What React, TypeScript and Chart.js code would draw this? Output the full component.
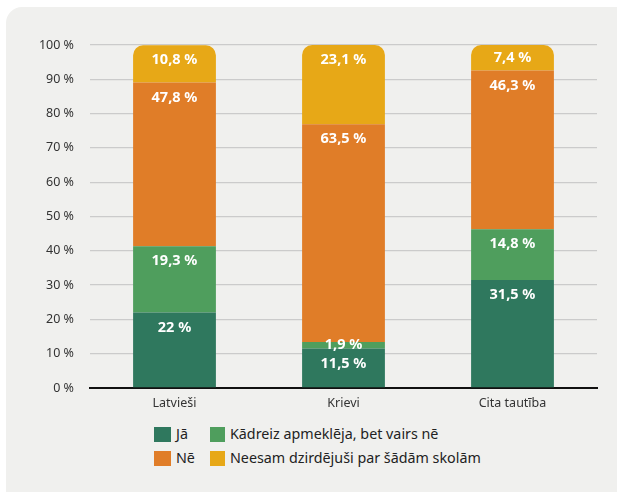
import React, { useEffect, useRef } from "react";
import { Chart, registerables } from "chart.js";

Chart.register(...registerables);

const categories = ["Latvieši", "Krievi", "Cita tautība"];
const seriesNames = [
  "Jā",
  "Kādreiz apmeklēja, bet vairs nē",
  "Nē",
  "Neesam dzirdējuši par šādām skolām",
];
const jaValues = [22, 11.5, 31.5];
const kadreizValues = [19.3, 1.9, 14.8];
const neValues = [47.8, 63.5, 46.3];
const neesamValues = [10.8, 23.1, 7.4];
const yTickMax = 100;
const yTickStep = 10;
const seriesColors = ["#2f785e", "#4f9e5d", "#e07d28", "#e7a817"];

const fmt = (v: number) => String(v).replace(".", ",") + " %";

const FONT = '"Noto Sans", "DejaVu Sans", sans-serif';

const segLabels = {
  id: "segLabels",
  afterDatasetsDraw(chart: any) {
    const ctx = chart.ctx;
    ctx.save();
    ctx.font = `bold 14.5px ${FONT}`;
    ctx.fillStyle = "#ffffff";
    ctx.textAlign = "center";
    ctx.textBaseline = "middle";
    chart.data.datasets.forEach((ds: any, di: number) => {
      const meta = chart.getDatasetMeta(di);
      meta.data.forEach((bar: any, i: number) => {
        const { x, y, base } = bar.getProps(["x", "y", "base"], true);
        const h = base - y;
        const ly = h >= 30 ? y + 15 : (y + base) / 2;
        ctx.fillText(fmt(ds.data[i]), x, ly);
      });
    });
    ctx.restore();
  },
};

export default function App() {
  const ref = useRef<HTMLCanvasElement | null>(null);

  useEffect(() => {
    if (!ref.current) return;
    const seriesData = [jaValues, kadreizValues, neValues, neesamValues];
    const chart = new Chart(ref.current, {
      type: "bar",
      data: {
        labels: categories,
        datasets: seriesData.map((d, i) => ({
          label: seriesNames[i],
          data: d,
          backgroundColor: seriesColors[i],
          borderWidth: 0,
          borderRadius:
            i === seriesData.length - 1
              ? { topLeft: 10, topRight: 10, bottomLeft: 0, bottomRight: 0 }
              : 0,
          borderSkipped: false,
          barPercentage: 0.49,
          categoryPercentage: 1,
        })),
      },
      options: {
        responsive: false,
        animation: false,
        layout: { padding: { left: 0, right: 20, top: 45, bottom: 0 } },
        plugins: {
          legend: { display: false },
          tooltip: { enabled: false },
        },
        scales: {
          x: {
            stacked: true,
            grid: { display: false, drawTicks: false },
            border: { display: true, color: "#111111", width: 2 },
            ticks: {
              color: "#333333",
              font: { family: FONT, size: 12.5 },
              padding: 8,
            },
            afterFit: (s: any) => {
              s.height = 32;
            },
          },
          y: {
            stacked: true,
            min: 0,
            max: yTickMax,
            grid: { color: "#cbcbcb", lineWidth: 1.3, drawTicks: false },
            border: { display: false },
            ticks: {
              stepSize: yTickStep,
              color: "#333333",
              font: { family: FONT, size: 12.5 },
              padding: 16,
              callback: (v: any) => v + " %",
            },
            afterFit: (s: any) => {
              s.width = 90;
            },
          },
        },
      },
      plugins: [segLabels],
    });
    return () => chart.destroy();
  }, []);

  const legendItem = (i: number, left: number, top: number) => (
    <div
      key={i}
      style={{
        position: "absolute",
        left,
        top,
        display: "flex",
        alignItems: "center",
        height: 16,
      }}
    >
      <span
        style={{
          display: "inline-block",
          width: i % 2 === 0 ? 17 : 15,
          height: 15,
          background: seriesColors[i],
          marginRight: 5,
        }}
      />
      <span
        style={{
          fontFamily: FONT,
          fontSize: 14.3,
          color: "#222222",
          whiteSpace: "nowrap",
          lineHeight: "16px",
        }}
      >
        {seriesNames[i]}
      </span>
    </div>
  );

  return (
    <div
      style={{
        position: "absolute",
        left: 0,
        top: 0,
        width: 617,
        height: 492,
        background: "#ffffff",
        overflow: "hidden",
      }}
    >
      <div
        style={{
          position: "absolute",
          left: 6,
          top: 7,
          width: 611,
          height: 485,
          background: "#f0f0ee",
          borderTopLeftRadius: 16,
        }}
      />
      <canvas
        ref={ref}
        width={617}
        height={420}
        style={{ position: "absolute", left: 0, top: 0, width: 617, height: 420 }}
      />
      {legendItem(0, 154, 426)}
      {legendItem(1, 210, 426)}
      {legendItem(2, 154, 450)}
      {legendItem(3, 210, 450)}
    </div>
  );
}
